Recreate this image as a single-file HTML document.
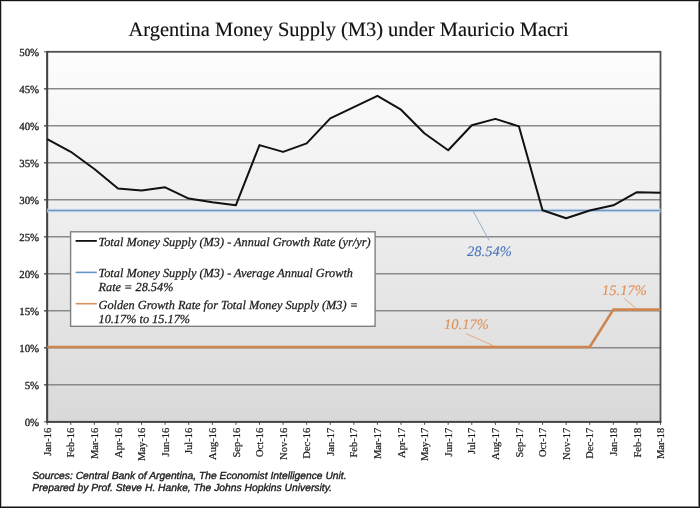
<!DOCTYPE html>
<html><head><meta charset="utf-8"><title>Argentina Money Supply (M3) under Mauricio Macri</title>
<style>
html,body{margin:0;padding:0;background:#fff;}
body{width:700px;height:508px;overflow:hidden;}
svg{display:block;text-rendering:geometricPrecision;}
.t{font-family:"Liberation Serif","Times New Roman",serif;}
.s{font-family:"Liberation Sans",Arial,sans-serif;}
</style></head><body>
<svg width="700" height="508" viewBox="0 0 700 508">
<defs>
<linearGradient id="bg" x1="0" y1="0" x2="0" y2="1">
<stop offset="0" stop-color="#fdfdfd"/>
<stop offset="0.5" stop-color="#ececec"/>
<stop offset="1" stop-color="#d9d9d9"/>
</linearGradient>
</defs>
<rect x="0" y="0" width="700" height="508" fill="#fff"/>
<rect x="47.2" y="51.80000000000001" width="613.3" height="370.0" fill="url(#bg)"/>
<line x1="44.2" y1="384.80" x2="660.5" y2="384.80" stroke="#8a8a8a" stroke-width="1.4"/>
<line x1="44.2" y1="347.80" x2="660.5" y2="347.80" stroke="#8a8a8a" stroke-width="1.4"/>
<line x1="44.2" y1="310.80" x2="660.5" y2="310.80" stroke="#8a8a8a" stroke-width="1.4"/>
<line x1="44.2" y1="273.80" x2="660.5" y2="273.80" stroke="#8a8a8a" stroke-width="1.4"/>
<line x1="44.2" y1="236.80" x2="660.5" y2="236.80" stroke="#8a8a8a" stroke-width="1.4"/>
<line x1="44.2" y1="199.80" x2="660.5" y2="199.80" stroke="#8a8a8a" stroke-width="1.4"/>
<line x1="44.2" y1="162.80" x2="660.5" y2="162.80" stroke="#8a8a8a" stroke-width="1.4"/>
<line x1="44.2" y1="125.80" x2="660.5" y2="125.80" stroke="#8a8a8a" stroke-width="1.4"/>
<line x1="44.2" y1="88.80" x2="660.5" y2="88.80" stroke="#8a8a8a" stroke-width="1.4"/>
<g stroke="#4a4a4a" stroke-width="1">
<line x1="44.0" y1="421.80" x2="47.2" y2="421.80"/>
<line x1="44.0" y1="384.80" x2="47.2" y2="384.80"/>
<line x1="44.0" y1="347.80" x2="47.2" y2="347.80"/>
<line x1="44.0" y1="310.80" x2="47.2" y2="310.80"/>
<line x1="44.0" y1="273.80" x2="47.2" y2="273.80"/>
<line x1="44.0" y1="236.80" x2="47.2" y2="236.80"/>
<line x1="44.0" y1="199.80" x2="47.2" y2="199.80"/>
<line x1="44.0" y1="162.80" x2="47.2" y2="162.80"/>
<line x1="44.0" y1="125.80" x2="47.2" y2="125.80"/>
<line x1="44.0" y1="88.80" x2="47.2" y2="88.80"/>
<line x1="44.0" y1="51.80" x2="47.2" y2="51.80"/>
</g>
<g class="t" font-size="10.9" fill="#1a1a1a" text-anchor="end" stroke="#1a1a1a" stroke-width="0.3">
<text x="39.2" y="425.50">0%</text>
<text x="39.2" y="388.50">5%</text>
<text x="39.2" y="351.50">10%</text>
<text x="39.2" y="314.50">15%</text>
<text x="39.2" y="277.50">20%</text>
<text x="39.2" y="240.50">25%</text>
<text x="39.2" y="203.50">30%</text>
<text x="39.2" y="166.50">35%</text>
<text x="39.2" y="129.50">40%</text>
<text x="39.2" y="92.50">45%</text>
<text x="39.2" y="55.50">50%</text>
</g>
<g stroke="#4a4a4a" stroke-width="1">
<line x1="47.20" y1="421.8" x2="47.20" y2="424.8"/>
<line x1="70.79" y1="421.8" x2="70.79" y2="424.8"/>
<line x1="94.38" y1="421.8" x2="94.38" y2="424.8"/>
<line x1="117.97" y1="421.8" x2="117.97" y2="424.8"/>
<line x1="141.55" y1="421.8" x2="141.55" y2="424.8"/>
<line x1="165.14" y1="421.8" x2="165.14" y2="424.8"/>
<line x1="188.73" y1="421.8" x2="188.73" y2="424.8"/>
<line x1="212.32" y1="421.8" x2="212.32" y2="424.8"/>
<line x1="235.91" y1="421.8" x2="235.91" y2="424.8"/>
<line x1="259.50" y1="421.8" x2="259.50" y2="424.8"/>
<line x1="283.08" y1="421.8" x2="283.08" y2="424.8"/>
<line x1="306.67" y1="421.8" x2="306.67" y2="424.8"/>
<line x1="330.26" y1="421.8" x2="330.26" y2="424.8"/>
<line x1="353.85" y1="421.8" x2="353.85" y2="424.8"/>
<line x1="377.44" y1="421.8" x2="377.44" y2="424.8"/>
<line x1="401.03" y1="421.8" x2="401.03" y2="424.8"/>
<line x1="424.62" y1="421.8" x2="424.62" y2="424.8"/>
<line x1="448.20" y1="421.8" x2="448.20" y2="424.8"/>
<line x1="471.79" y1="421.8" x2="471.79" y2="424.8"/>
<line x1="495.38" y1="421.8" x2="495.38" y2="424.8"/>
<line x1="518.97" y1="421.8" x2="518.97" y2="424.8"/>
<line x1="542.56" y1="421.8" x2="542.56" y2="424.8"/>
<line x1="566.15" y1="421.8" x2="566.15" y2="424.8"/>
<line x1="589.73" y1="421.8" x2="589.73" y2="424.8"/>
<line x1="613.32" y1="421.8" x2="613.32" y2="424.8"/>
<line x1="636.91" y1="421.8" x2="636.91" y2="424.8"/>
<line x1="660.50" y1="421.8" x2="660.50" y2="424.8"/>
</g>
<g class="t" font-size="10.5" fill="#1a1a1a" text-anchor="end" stroke="#1a1a1a" stroke-width="0.2">
<text transform="translate(50.80,427.8) rotate(-90)">Jan-16</text>
<text transform="translate(74.39,427.8) rotate(-90)">Feb-16</text>
<text transform="translate(97.98,427.8) rotate(-90)">Mar-16</text>
<text transform="translate(121.57,427.8) rotate(-90)">Apr-16</text>
<text transform="translate(145.15,427.8) rotate(-90)">May-16</text>
<text transform="translate(168.74,427.8) rotate(-90)">Jun-16</text>
<text transform="translate(192.33,427.8) rotate(-90)">Jul-16</text>
<text transform="translate(215.92,427.8) rotate(-90)">Aug-16</text>
<text transform="translate(239.51,427.8) rotate(-90)">Sep-16</text>
<text transform="translate(263.10,427.8) rotate(-90)">Oct-16</text>
<text transform="translate(286.68,427.8) rotate(-90)">Nov-16</text>
<text transform="translate(310.27,427.8) rotate(-90)">Dec-16</text>
<text transform="translate(333.86,427.8) rotate(-90)">Jan-17</text>
<text transform="translate(357.45,427.8) rotate(-90)">Feb-17</text>
<text transform="translate(381.04,427.8) rotate(-90)">Mar-17</text>
<text transform="translate(404.63,427.8) rotate(-90)">Apr-17</text>
<text transform="translate(428.22,427.8) rotate(-90)">May-17</text>
<text transform="translate(451.80,427.8) rotate(-90)">Jun-17</text>
<text transform="translate(475.39,427.8) rotate(-90)">Jul-17</text>
<text transform="translate(498.98,427.8) rotate(-90)">Aug-17</text>
<text transform="translate(522.57,427.8) rotate(-90)">Sep-17</text>
<text transform="translate(546.16,427.8) rotate(-90)">Oct-17</text>
<text transform="translate(569.75,427.8) rotate(-90)">Nov-17</text>
<text transform="translate(593.33,427.8) rotate(-90)">Dec-17</text>
<text transform="translate(616.92,427.8) rotate(-90)">Jan-18</text>
<text transform="translate(640.51,427.8) rotate(-90)">Feb-18</text>
<text transform="translate(664.10,427.8) rotate(-90)">Mar-18</text>
</g>
<rect x="47.2" y="51.80" width="613.30" height="370.00" fill="none" stroke="#505050" stroke-width="1.8"/>
<line x1="47.2" y1="50.90" x2="47.2" y2="422.70" stroke="#444" stroke-width="1.8"/>
<line x1="46.300000000000004" y1="421.80" x2="661.4" y2="421.80" stroke="#444" stroke-width="1.8"/>
<line x1="47.2" y1="210.60" x2="660.5" y2="210.60" stroke="#d3e3f4" stroke-width="3.6"/>
<line x1="47.2" y1="210.60" x2="660.5" y2="210.60" stroke="#6f93bb" stroke-width="1.5"/>
<polyline points="47.2,346.94 589.73,346.94 613.32,309.64 660.5,309.64" fill="none" stroke="#cf8550" stroke-width="2.6" stroke-linejoin="round"/>
<polyline points="47.20,139.20 70.79,151.80 94.38,169.00 117.97,188.40 141.55,190.60 165.14,187.30 188.73,198.60 212.32,202.30 235.91,205.20 259.50,145.10 283.08,151.90 306.67,143.40 330.26,118.40 353.85,107.20 377.44,95.80 401.03,109.70 424.62,133.50 448.20,150.20 471.79,125.30 495.38,118.90 518.97,126.40 542.56,210.20 566.15,218.30 589.73,210.50 613.32,205.30 636.91,192.20 660.50,192.80" fill="none" stroke="#111" stroke-width="2" stroke-linejoin="round"/>
<line x1="472.7" y1="210.5" x2="489.1" y2="240.4" stroke="#98adc6" stroke-width="1"/>
<line x1="466.1" y1="333.7" x2="494.4" y2="346.2" stroke="#e6a070" stroke-width="0.9"/>
<line x1="624.2" y1="298.4" x2="635.9" y2="308.2" stroke="#e6a070" stroke-width="0.9"/>
<g class="t" font-style="italic" font-size="14.5" stroke-width="0.12">
<text x="467" y="255.7" fill="#4a74b8" stroke="#4a74b8">28.54%</text>
<text x="444" y="329" fill="#e08f5a" stroke="#e08f5a">10.17%</text>
<text x="602" y="294.7" fill="#e08f5a" stroke="#e08f5a">15.17%</text>
</g>
<rect x="70.6" y="231.8" width="304.5" height="94.5" fill="#fff" stroke="#808080" stroke-width="1.4"/>
<line x1="75.6" y1="240.9" x2="96.8" y2="240.9" stroke="#111" stroke-width="1.8"/>
<line x1="75.6" y1="272.4" x2="96.8" y2="272.4" stroke="#6496cf" stroke-width="1.6"/>
<line x1="75.6" y1="303.7" x2="96.8" y2="303.7" stroke="#d6905e" stroke-width="1.6"/>
<g class="t" font-style="italic" font-size="12.3" fill="#1a1a1a" stroke="#1a1a1a" stroke-width="0.25">
<text x="98.5" y="246.0">Total Money Supply (M3) - Annual Growth Rate (yr/yr)</text>
<text x="98.5" y="277.2">Total Money Supply (M3) - Average Annual Growth</text>
<text x="98.5" y="291.2">Rate = 28.54%</text>
<text x="98.5" y="308.5">Golden Growth Rate for Total Money Supply (M3) =</text>
<text x="98.5" y="322.7">10.17% to 15.17%</text>
</g>
<text class="t" x="128.5" y="36.4" font-size="20.45" fill="#111" stroke="#111" stroke-width="0.15">Argentina Money Supply (M3) under Mauricio Macri</text>
<g class="s" font-style="italic" font-size="10.3" fill="#1a1a1a" stroke="#1a1a1a" stroke-width="0.35">
<text x="32.2" y="479.4">Sources: Central Bank of Argentina, The Economist Intelligence Unit.</text>
<text x="32.2" y="491.1">Prepared by Prof. Steve H. Hanke, The Johns Hopkins University.</text>
</g>
<rect x="0.5" y="0.5" width="699" height="507" fill="none" stroke="#141414" stroke-width="1"/>
<rect x="1" y="1" width="698" height="1" fill="#141414" fill-opacity="0.2"/>
<rect x="1" y="2" width="1" height="504" fill="#141414" fill-opacity="0.25"/>
<rect x="698" y="2" width="1" height="504" fill="#141414" fill-opacity="0.55"/>
<rect x="1" y="506" width="698" height="1" fill="#141414" fill-opacity="0.5"/>
</svg>
</body></html>
